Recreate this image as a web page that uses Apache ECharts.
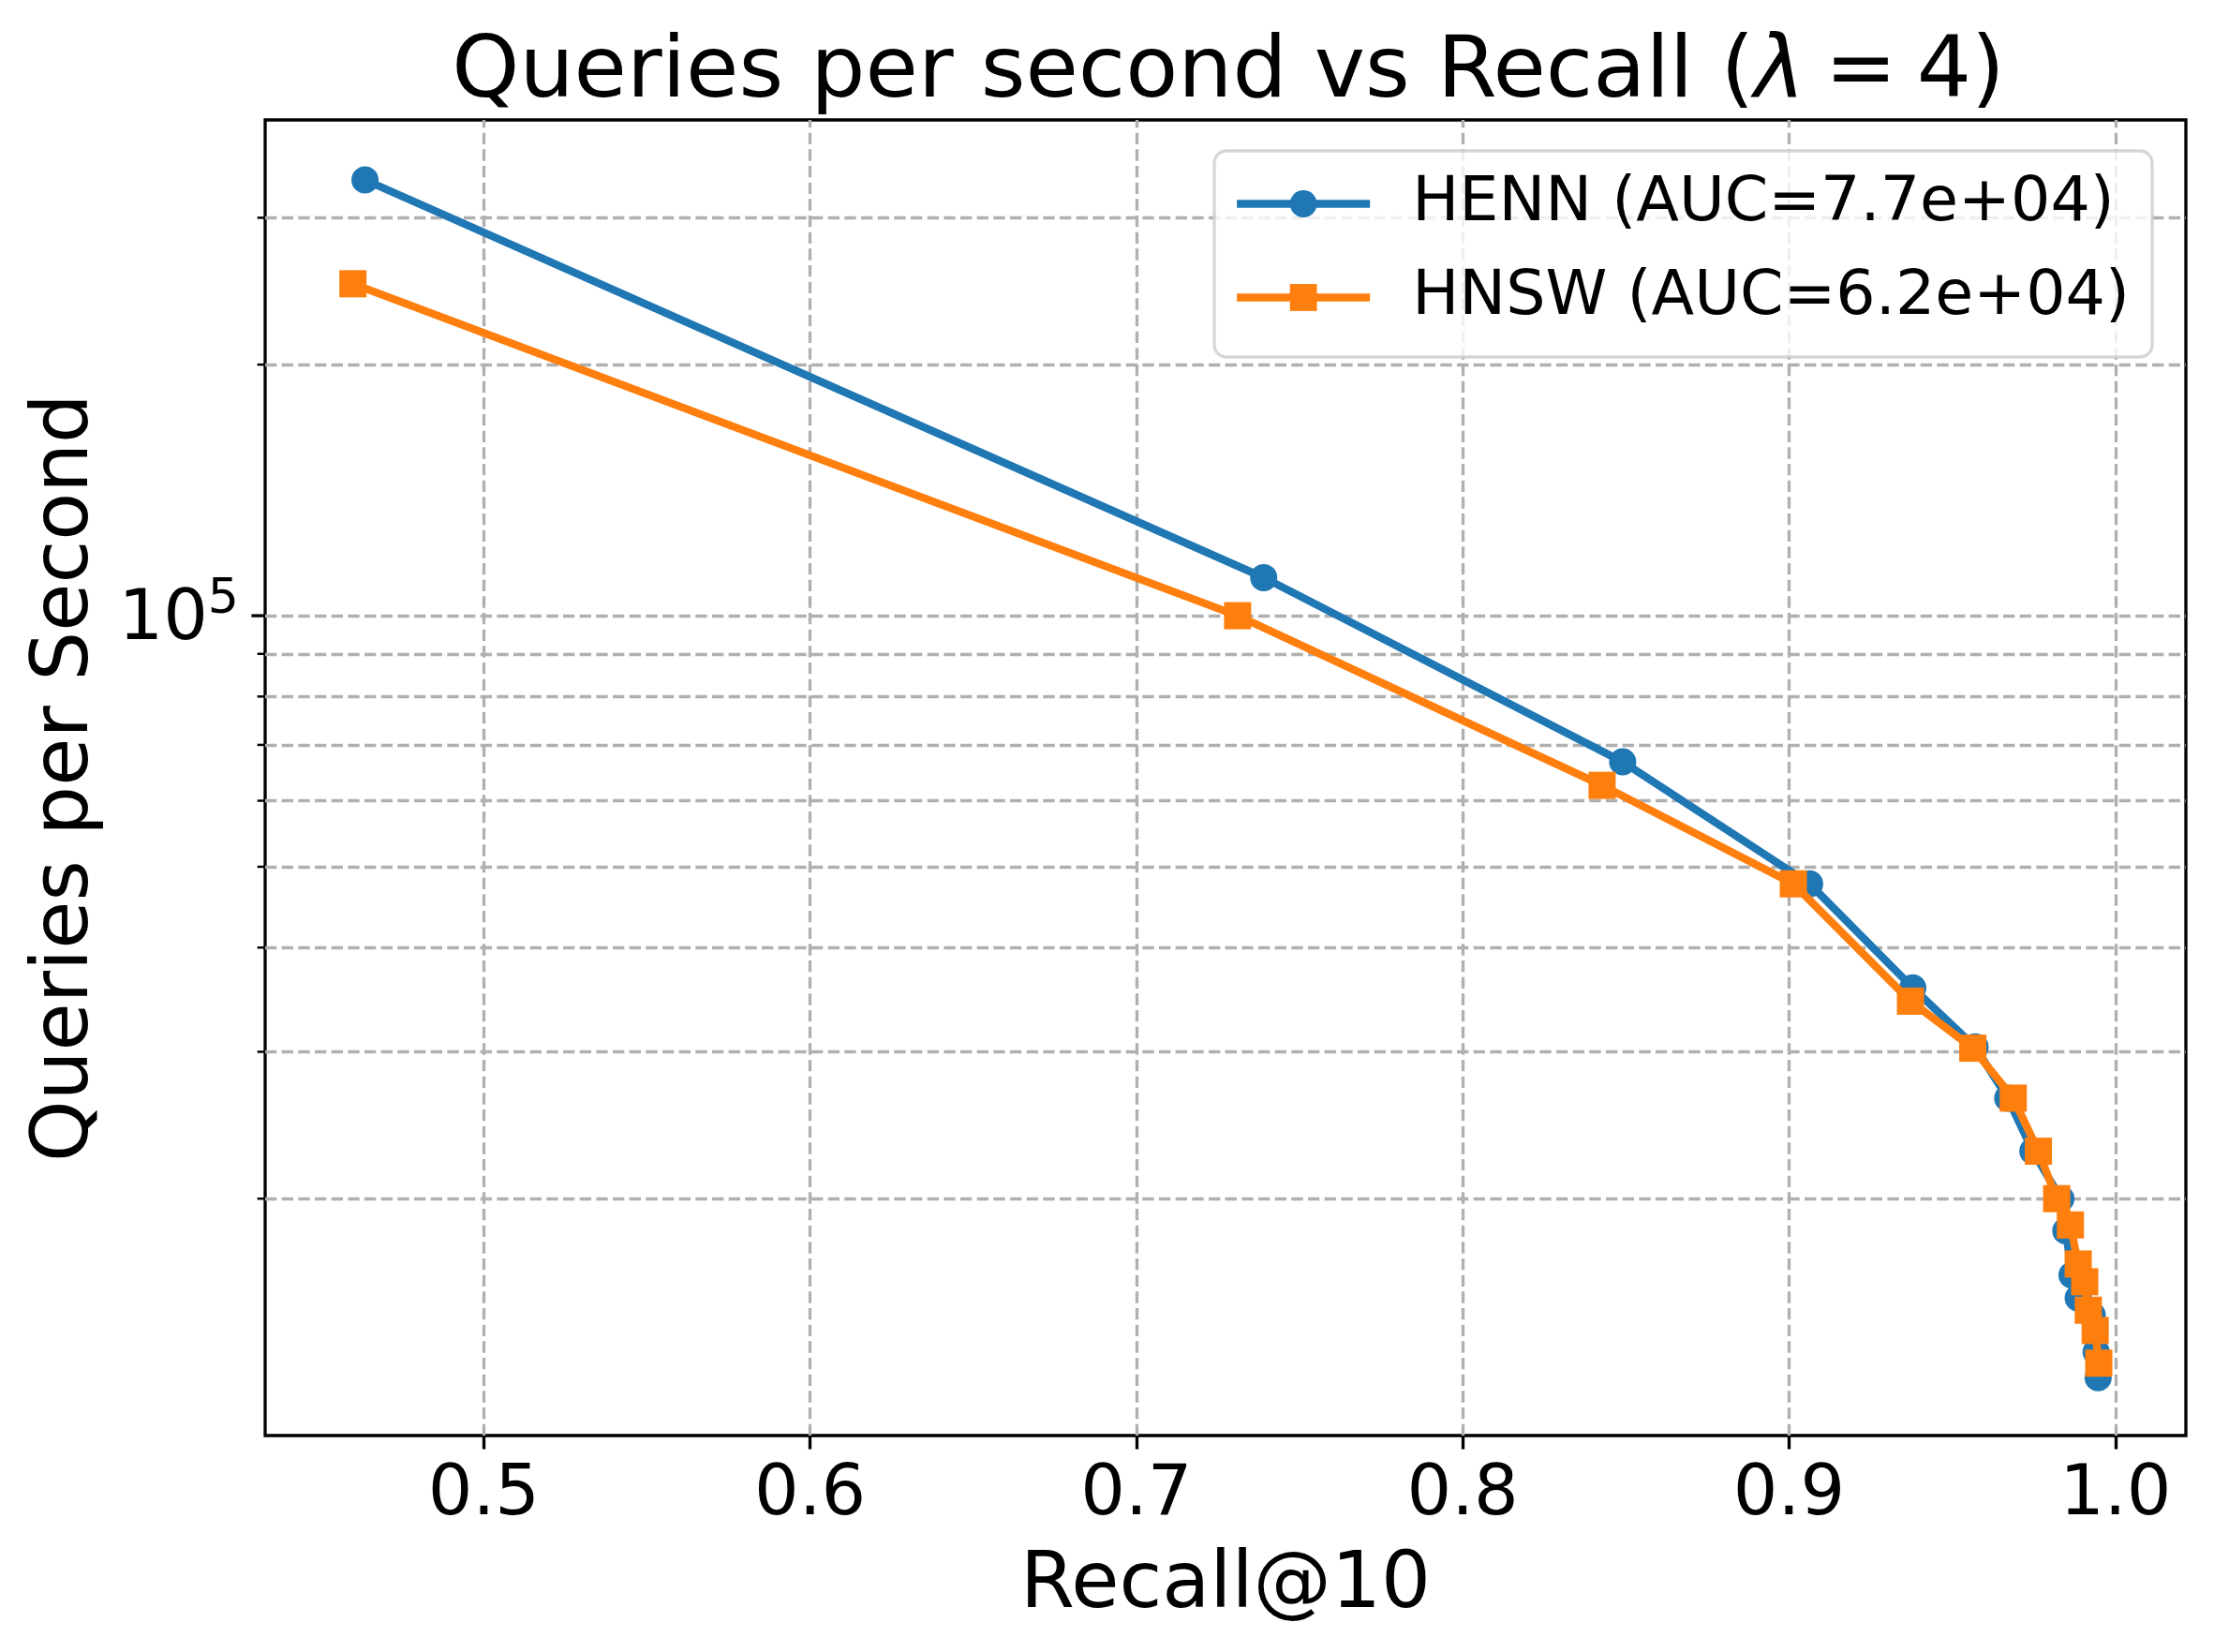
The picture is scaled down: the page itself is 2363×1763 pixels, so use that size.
<!DOCTYPE html>
<html><head><meta charset="utf-8">
<script src="https://cdn.jsdelivr.net/npm/echarts@6/dist/echarts.min.js"></script>
<style>html,body{margin:0;padding:0;background:#fff}#c{width:2363px;height:1763px}</style>
</head><body><div id="c"></div>
<script>
// ---- data ----
const recallHENN = [0.4636, 0.739, 0.849, 0.9063, 0.9379, 0.957, 0.967, 0.9747, 0.9833, 0.9848, 0.9867, 0.9886, 0.9929, 0.9941, 0.9947];
const qpsHENN    = [333000, 111100, 66800, 47700, 35800, 30400, 26400, 22800, 20000, 18300, 16200, 15200, 14500, 13100, 12200];
const recallHNSW = [0.4599, 0.731, 0.8427, 0.9013, 0.9372, 0.9563, 0.9687, 0.9764, 0.982, 0.9862, 0.9886, 0.9906, 0.9917, 0.9938, 0.9949];
const qpsHNSW    = [250000, 100000, 62600, 47700, 34500, 30300, 26400, 22800, 20000, 18600, 16700, 15900, 14700, 13900, 12700];
const seriesNames = ['HENN (AUC=7.7e+04)', 'HNSW (AUC=6.2e+04)'];
const xTicks = [0.5, 0.6, 0.7, 0.8, 0.9, 1.0];
const yMajorTicks = [100000];
const yMinorTicks = [20000, 30000, 40000, 50000, 60000, 70000, 80000, 90000, 200000, 300000];

// ---- styling ----
const PT = 300 / 72;
const FONT = 'DejaVu Sans';
const XMIN = 0.433, XMAX = 1.0216, YMIN = 10400, YMAX = 393000;

const chart = echarts.init(document.getElementById('c'), null, {renderer: 'canvas'});

const gridLines = xTicks.map(v => ({xAxis: v}))
  .concat(yMinorTicks.concat(yMajorTicks).map(v => ({yAxis: v})));
const yTickData = yMajorTicks.map(v => [XMIN, v, 1]).concat(yMinorTicks.map(v => [XMIN, v, 0]));

const option = {
  animation: false,
  backgroundColor: '#fff',
  textStyle: {fontFamily: FONT},
  graphic: [{
    type: 'text', x: 1311, y: 33, silent: true,
    style: {
      text: 'Queries per second vs Recall ({i|λ}{sp| }={sp| }4)',
      fontFamily: FONT, fontSize: 22 * PT, fill: '#000',
      align: 'center', verticalAlign: 'top',
      rich: {
        i: {fontFamily: FONT, fontSize: 22 * PT, fontStyle: 'italic', fill: '#000'},
        sp: {fontFamily: FONT, fontSize: 16 * PT, fill: '#000'}
      }
    }
  }],
  grid: {left: 283, right: 30, top: 128, bottom: 231, show: true, borderColor: '#000', borderWidth: 0.8 * PT, backgroundColor: 'transparent'},
  legend: {
    orient: 'vertical', left: 1296, top: 161, data: seriesNames, selectedMode: false,
    itemWidth: 142, itemHeight: 36, itemGap: 33,
    padding: [23, 24, 30, 20],
    backgroundColor: 'rgba(255,255,255,0.8)', borderColor: 'rgba(204,204,204,0.8)',
    borderWidth: 0.8 * PT, borderRadius: 13,
    lineStyle: {width: 2 * PT},
    textStyle: {fontSize: 16 * PT, color: '#000', fontFamily: FONT, lineHeight: 66, padding: [0, 0, 0, 40]}
  },
  xAxis: {
    type: 'value', min: XMIN, max: XMAX,
    name: 'Recall@10', nameLocation: 'middle', nameGap: 120,
    nameTextStyle: {fontSize: 20 * PT, color: '#000', fontFamily: FONT},
    axisLine: {show: false}, splitLine: {show: false},
    axisTick: {show: true, length: 3.5 * PT, lineStyle: {color: '#000', width: 0.8 * PT}, customValues: xTicks},
    axisLabel: {customValues: xTicks, formatter: v => Number(v).toFixed(1), fontSize: 18 * PT, color: '#000', margin: 27, fontFamily: FONT}
  },
  yAxis: {
    type: 'log', logBase: 10, min: YMIN, max: YMAX,
    name: 'Queries per Second', nameLocation: 'middle', nameGap: 170,
    nameTextStyle: {fontSize: 20 * PT, color: '#000', fontFamily: FONT},
    axisLine: {show: false}, splitLine: {show: false}, axisTick: {show: false}, minorTick: {show: false},
    axisLabel: {
      margin: 28, showMinLabel: false, showMaxLabel: false,
      formatter: v => (Math.abs(v - 1e5) < 1 ? '{b|10}{s|5}' : ''),
      rich: {
        b: {fontSize: 18 * PT, fontFamily: FONT, color: '#000', padding: [11, 0, 0, 0], verticalAlign: 'bottom'},
        s: {fontSize: 12.5 * PT, fontFamily: FONT, color: '#000', verticalAlign: 'top'}
      }
    }
  },
  series: [
    {
      type: 'custom', name: 'yticks', silent: true, clip: false, z: 10,
      data: yTickData, encode: {x: 0, y: 1},
      renderItem: function (params, api) {
        const p = api.coord([api.value(0), api.value(1)]);
        const major = api.value(2) === 1;
        const len = major ? 3.5 * PT : 2 * PT;
        return {type: 'line', shape: {x1: p[0] - len, y1: p[1], x2: p[0], y2: p[1]},
                style: {stroke: '#000', lineWidth: major ? 0.8 * PT : 0.6 * PT}};
      }
    },
    {
      type: 'line', name: seriesNames[0], z: 3,
      data: recallHENN.map((r, i) => [r, qpsHENN[i]]),
      symbol: 'circle', symbolSize: 29, showSymbol: true, showAllSymbol: true,
      lineStyle: {width: 2 * PT, color: '#1f77b4'}, itemStyle: {color: '#1f77b4'},
      markLine: {
        silent: true, symbol: 'none', z: 1, animation: false,
        label: {show: false},
        lineStyle: {type: [3.7 * 0.8 * PT, 1.6 * 0.8 * PT], color: '#b0b0b0', width: 0.8 * PT},
        emphasis: {disabled: true},
        data: gridLines
      }
    },
    {
      type: 'line', name: seriesNames[1], z: 4,
      data: recallHNSW.map((r, i) => [r, qpsHNSW[i]]),
      symbol: 'rect', symbolSize: 29, showSymbol: true, showAllSymbol: true,
      lineStyle: {width: 2 * PT, color: '#ff7f0e'}, itemStyle: {color: '#ff7f0e'}
    }
  ]
};
chart.setOption(option);
</script>
</body></html>
